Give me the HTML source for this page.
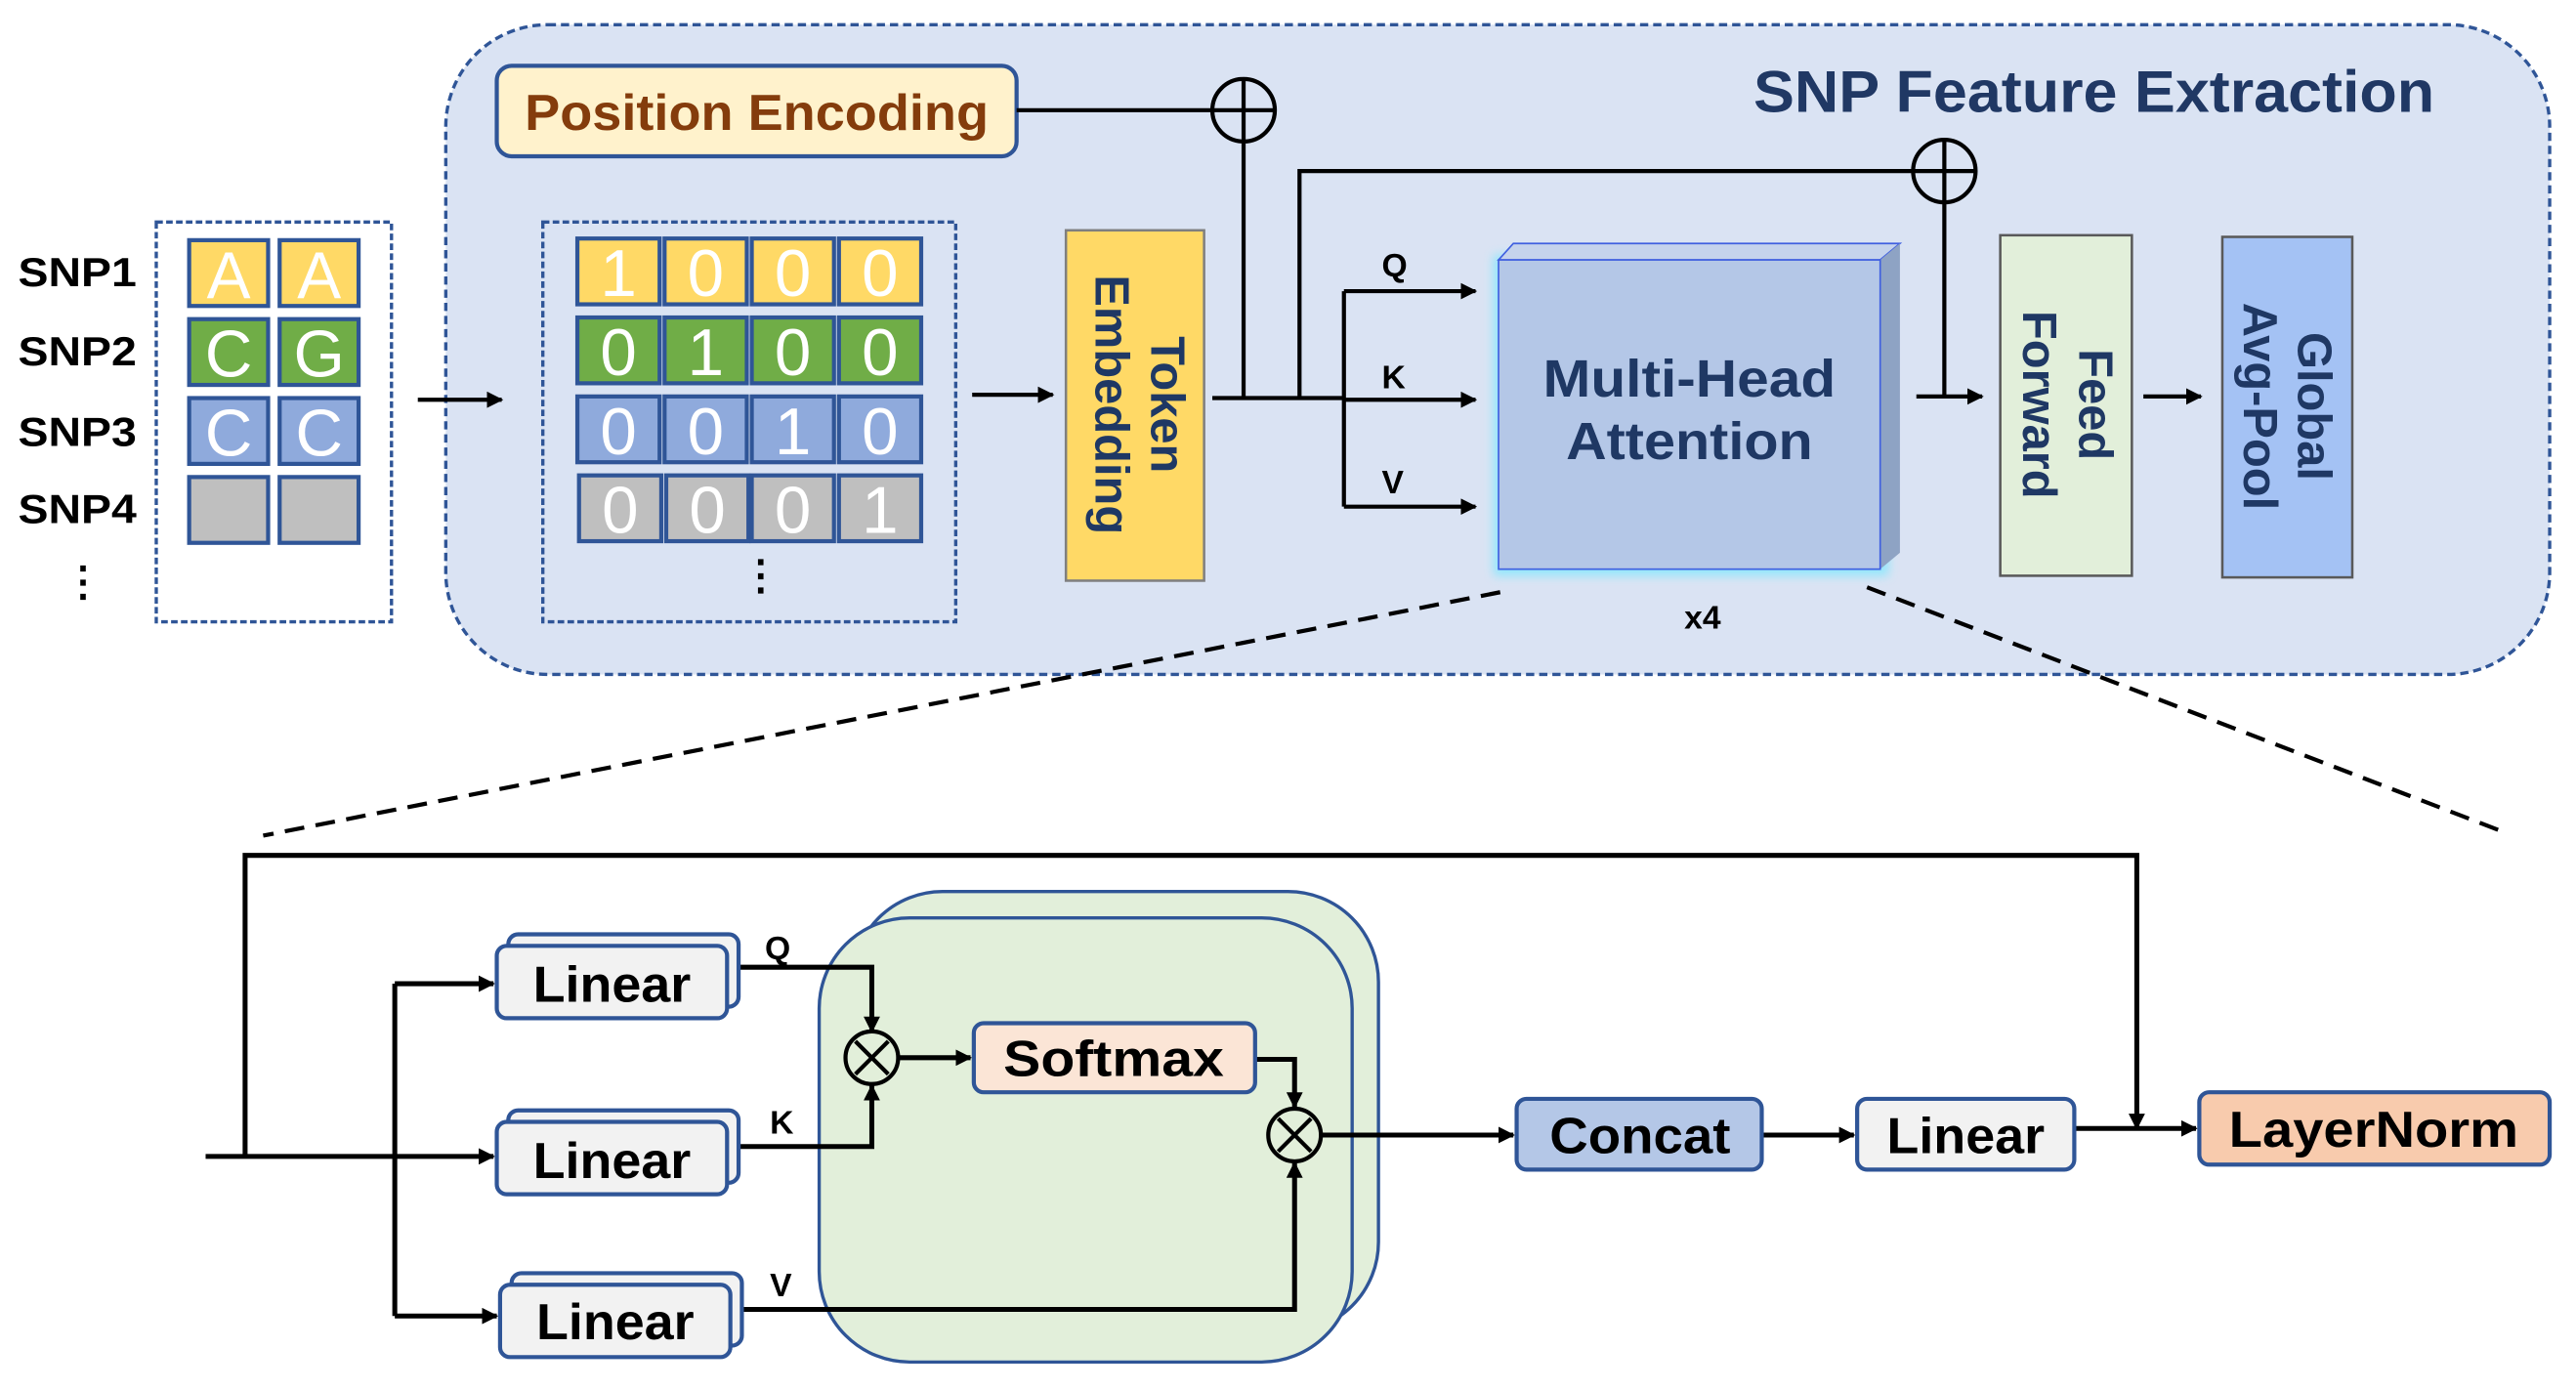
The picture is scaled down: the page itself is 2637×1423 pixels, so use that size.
<!DOCTYPE html>
<html><head><meta charset="utf-8"><style>html,body{margin:0;padding:0;background:#fff}svg{display:block}text{font-family:"Liberation Sans",sans-serif;font-weight:bold}text.n{font-weight:normal}</style></head>
<body>
<svg width="2637" height="1423" viewBox="0 0 1566 845" preserveAspectRatio="none" xmlns="http://www.w3.org/2000/svg">
<defs>
<marker id="a" markerWidth="10" markerHeight="10" refX="9" refY="5" orient="auto" markerUnits="userSpaceOnUse"><path d="M0,0 L10,5 L0,10 z" fill="#000"/></marker>
<filter id="g" x="-10%" y="-10%" width="120%" height="120%"><feGaussianBlur stdDeviation="3"/></filter>
</defs>
<rect x="271" y="15" width="1279" height="395" rx="62" fill="#dae3f3" stroke="#2f5597" stroke-width="2" stroke-dasharray="5,3"/>
<text x="1066" y="68" font-size="36" fill="#203864" textLength="414" lengthAdjust="spacingAndGlyphs">SNP Feature Extraction</text>
<g font-size="25" fill="#000">
<text x="11" y="174" textLength="72" lengthAdjust="spacingAndGlyphs">SNP1</text>
<text x="11" y="222" textLength="72" lengthAdjust="spacingAndGlyphs">SNP2</text>
<text x="11" y="271" textLength="72" lengthAdjust="spacingAndGlyphs">SNP3</text>
<text x="11" y="318" textLength="72" lengthAdjust="spacingAndGlyphs">SNP4</text>
<text x="38" y="362">⋮</text><text x="156" y="362">⋮</text><text x="450" y="358">⋮</text>
</g>
<rect x="95" y="135" width="143" height="243" fill="#fff" stroke="#2f5597" stroke-width="2" stroke-dasharray="4,2"/>
<g stroke="#2f5597" stroke-width="2.5">
<rect x="115" y="146" width="48" height="40" fill="#ffd966"/><rect x="170" y="146" width="48" height="40" fill="#ffd966"/>
<rect x="115" y="194" width="48" height="40" fill="#70ad47"/><rect x="170" y="194" width="48" height="40" fill="#70ad47"/>
<rect x="115" y="242" width="48" height="40" fill="#8faadc"/><rect x="170" y="242" width="48" height="40" fill="#8faadc"/>
<rect x="115" y="290" width="48" height="40" fill="#bfbfbf"/><rect x="170" y="290" width="48" height="40" fill="#bfbfbf"/>
</g>
<g font-size="40" fill="#fff" text-anchor="middle">
<text class="n" x="139" y="181">A</text><text class="n" x="194" y="181">A</text>
<text class="n" x="139" y="229">C</text><text class="n" x="194" y="229">G</text>
<text class="n" x="139" y="277">C</text><text class="n" x="194" y="277">C</text>
</g>
<line x1="254" y1="243" x2="305" y2="243" stroke="#000" stroke-width="2.5" marker-end="url(#a)"/>
<rect x="330" y="135" width="251" height="243" fill="none" stroke="#2f5597" stroke-width="2" stroke-dasharray="4,2"/>
<g stroke="#2f5597" stroke-width="2.5">
<rect x="351" y="145" width="50" height="40" fill="#ffd966"/><rect x="404" y="145" width="50" height="40" fill="#ffd966"/><rect x="457" y="145" width="50" height="40" fill="#ffd966"/><rect x="510" y="145" width="50" height="40" fill="#ffd966"/>
<rect x="351" y="193" width="50" height="40" fill="#70ad47"/><rect x="404" y="193" width="50" height="40" fill="#70ad47"/><rect x="457" y="193" width="50" height="40" fill="#70ad47"/><rect x="510" y="193" width="50" height="40" fill="#70ad47"/>
<rect x="351" y="241" width="50" height="40" fill="#8faadc"/><rect x="404" y="241" width="50" height="40" fill="#8faadc"/><rect x="457" y="241" width="50" height="40" fill="#8faadc"/><rect x="510" y="241" width="50" height="40" fill="#8faadc"/>
<rect x="352" y="289" width="50" height="40" fill="#bfbfbf"/><rect x="405" y="289" width="50" height="40" fill="#bfbfbf"/><rect x="457" y="289" width="50" height="40" fill="#bfbfbf"/><rect x="510" y="289" width="50" height="40" fill="#bfbfbf"/>
</g>
<g font-size="40" fill="#fff" text-anchor="middle">
<text class="n" x="376" y="180">1</text><text class="n" x="429" y="180">0</text><text class="n" x="482" y="180">0</text><text class="n" x="535" y="180">0</text>
<text class="n" x="376" y="228">0</text><text class="n" x="429" y="228">1</text><text class="n" x="482" y="228">0</text><text class="n" x="535" y="228">0</text>
<text class="n" x="376" y="276">0</text><text class="n" x="429" y="276">0</text><text class="n" x="482" y="276">1</text><text class="n" x="535" y="276">0</text>
<text class="n" x="377" y="324">0</text><text class="n" x="430" y="324">0</text><text class="n" x="482" y="324">0</text><text class="n" x="535" y="324">1</text>
</g>
<line x1="591" y1="240" x2="640" y2="240" stroke="#000" stroke-width="2.5" marker-end="url(#a)"/>
<rect x="648" y="140" width="84" height="213" fill="#ffd966" stroke="#7f7f7f" stroke-width="1.5"/>
<g transform="translate(690,246) rotate(90)" font-size="29" fill="#1f3864" text-anchor="middle">
<text x="0" y="-10">Token</text><text x="0" y="24">Embedding</text></g>
<rect x="302" y="40" width="316" height="55" rx="9" fill="#fff2cc" stroke="#2f5597" stroke-width="2.5"/>
<text x="460" y="79" font-size="31" fill="#843c0c" text-anchor="middle" textLength="282" lengthAdjust="spacingAndGlyphs">Position Encoding</text>
<g stroke="#000" stroke-width="2.5" fill="none">
<line x1="618" y1="67" x2="737" y2="67"/>
<circle cx="756" cy="67" r="19"/><line x1="737" y1="67" x2="775" y2="67"/><line x1="756" y1="48" x2="756" y2="86"/>
<line x1="756" y1="86" x2="756" y2="242"/>
<line x1="737" y1="242" x2="817" y2="242"/>
<polyline points="790,242 790,104 1163,104"/>
<circle cx="1182" cy="104" r="19"/><line x1="1163" y1="104" x2="1201" y2="104"/><line x1="1182" y1="85" x2="1182" y2="241"/>
<line x1="1165" y1="241" x2="1205" y2="241" marker-end="url(#a)"/>
<line x1="817" y1="177" x2="817" y2="308"/>
<line x1="817" y1="177" x2="897" y2="177" marker-end="url(#a)"/>
<line x1="817" y1="243" x2="897" y2="243" marker-end="url(#a)"/>
<line x1="817" y1="308" x2="897" y2="308" marker-end="url(#a)"/>
<line x1="1303" y1="241" x2="1338" y2="241" marker-end="url(#a)"/>
</g>
<g font-size="20" fill="#000"><text x="840" y="168">Q</text><text x="840" y="236">K</text><text x="840" y="300">V</text></g>
<rect x="908" y="155" width="240" height="195" fill="#7fe8ff" filter="url(#g)" opacity="0.8"/>
<polygon points="911,158 920,148 1155,148 1143,158" fill="#c5d3ec" stroke="#4060e0" stroke-width="1"/>
<polygon points="1143,158 1155,148 1155,336 1143,346" fill="#8ea3c4"/>
<rect x="911" y="158" width="232" height="188" fill="#b4c7e7" stroke="#4060e0" stroke-width="1"/>
<text x="1027" y="241" font-size="32" fill="#1f3864" text-anchor="middle" textLength="178" lengthAdjust="spacingAndGlyphs">Multi-Head</text>
<text x="1027" y="279" font-size="32" fill="#1f3864" text-anchor="middle" textLength="150" lengthAdjust="spacingAndGlyphs">Attention</text>
<text x="1035" y="382" font-size="20" fill="#000" text-anchor="middle">x4</text>
<rect x="1216" y="143" width="80" height="207" fill="#e2efda" stroke="#595959" stroke-width="1.5"/>
<g transform="translate(1256,246) rotate(90)" font-size="29" fill="#1f3864" text-anchor="middle">
<text x="0" y="-8">Feed</text><text x="0" y="26">Forward</text></g>
<rect x="1351" y="144" width="79" height="207" fill="#a4c2f4" stroke="#595959" stroke-width="1.5"/>
<g transform="translate(1390,247) rotate(90)" font-size="29" fill="#1f3864" text-anchor="middle">
<text x="0" y="-7">Global</text><text x="0" y="26">Avg-Pool</text></g>
<g stroke="#000" stroke-width="2.5" stroke-dasharray="12,7">
<line x1="912" y1="360" x2="160" y2="508"/><line x1="1135" y1="357" x2="1520" y2="505"/></g>
<rect x="518" y="542" width="320" height="268" rx="55" fill="#e2efda" stroke="#2f5597" stroke-width="2"/>
<rect x="498" y="558" width="324" height="270" rx="55" fill="#e2efda" stroke="#2f5597" stroke-width="2"/>
<g stroke="#000" stroke-width="3" fill="none">
<line x1="125" y1="703" x2="300" y2="703" marker-end="url(#a)"/>
<polyline points="149,703 149,520 1299,520 1299,686" marker-end="url(#a)"/>
<line x1="240" y1="598" x2="240" y2="800"/>
<line x1="240" y1="598" x2="300" y2="598" marker-end="url(#a)"/>
<line x1="240" y1="800" x2="302" y2="800" marker-end="url(#a)"/>
<polyline points="449,588 530,588 530,627" marker-end="url(#a)"/>
<polyline points="449,697 530,697 530,660" marker-end="url(#a)"/>
<line x1="546" y1="643" x2="590" y2="643" marker-end="url(#a)"/>
<polyline points="763,644 787,644 787,673" marker-end="url(#a)"/>
<polyline points="449,796 787,796 787,707" marker-end="url(#a)"/>
<line x1="803" y1="690" x2="920" y2="690" marker-end="url(#a)"/>
<line x1="1071" y1="690" x2="1127" y2="690" marker-end="url(#a)"/>
<line x1="1261" y1="686" x2="1335" y2="686" marker-end="url(#a)"/>
</g>
<g stroke="#000" stroke-width="2.5" fill="none">
<circle cx="530" cy="643" r="16"/><line x1="520" y1="633" x2="540" y2="653"/><line x1="540" y1="633" x2="520" y2="653"/>
<circle cx="787" cy="690" r="16"/><line x1="777" y1="680" x2="797" y2="700"/><line x1="797" y1="680" x2="777" y2="700"/>
</g>
<g stroke="#2f5597" stroke-width="2.5" fill="#f2f2f2">
<rect x="309" y="568" width="140" height="44" rx="6"/><rect x="302" y="575" width="140" height="44" rx="6"/>
<rect x="309" y="675" width="140" height="44" rx="6"/><rect x="302" y="682" width="140" height="44" rx="6"/>
<rect x="311" y="774" width="140" height="44" rx="6"/><rect x="304" y="781" width="140" height="44" rx="6"/>
<rect x="1129" y="668" width="132" height="43" rx="6"/>
<rect x="592" y="622" width="171" height="42" rx="6" fill="#fbe5d6"/>
<rect x="922" y="668" width="149" height="43" rx="6" fill="#b4c7e7"/>
<rect x="1337" y="664" width="213" height="44" rx="6" fill="#f8cbad"/>
</g>
<g font-size="31" fill="#000" text-anchor="middle">
<text x="372" y="609" textLength="96" lengthAdjust="spacingAndGlyphs">Linear</text>
<text x="372" y="716" textLength="96" lengthAdjust="spacingAndGlyphs">Linear</text>
<text x="374" y="814" textLength="96" lengthAdjust="spacingAndGlyphs">Linear</text>
<text x="1195" y="701" textLength="96" lengthAdjust="spacingAndGlyphs">Linear</text>
<text x="677" y="654" textLength="134" lengthAdjust="spacingAndGlyphs">Softmax</text>
<text x="997" y="701" textLength="110" lengthAdjust="spacingAndGlyphs">Concat</text>
<text x="1443" y="697" textLength="176" lengthAdjust="spacingAndGlyphs">LayerNorm</text>
</g>
<g font-size="20" fill="#000"><text x="465" y="583">Q</text><text x="468" y="689">K</text><text x="468" y="788">V</text></g>
</svg>
</body></html>
